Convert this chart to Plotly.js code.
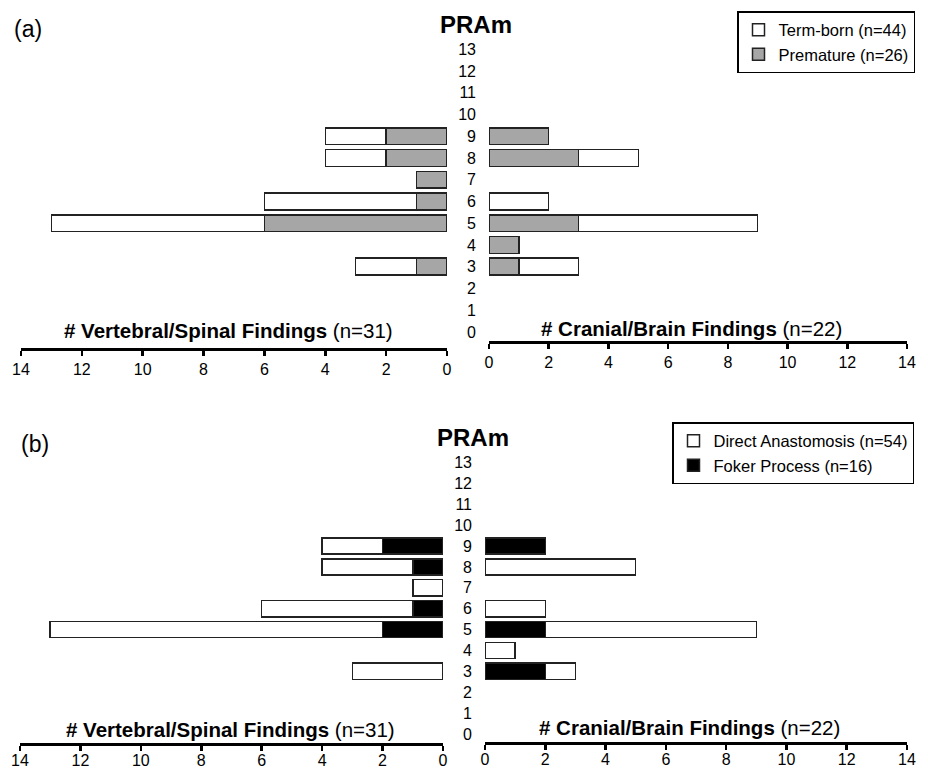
<!DOCTYPE html>
<html>
<head>
<meta charset="utf-8">
<script src="https://cdn.plot.ly/plotly-3.0.1.min.js"></script>
<style>html,body{margin:0;padding:0;background:#fff;}#chart{width:928px;height:771px;}</style>
</head>
<body>
<div id="chart"></div>
<script>
// Rows (category axis), 0..13
const rows = [0,1,2,3,4,5,6,7,8,9,10,11,12,13];
const rowLabels = rows.map(String);
const xTicks = [0,2,4,6,8,10,12,14];

// Panel (a): Term-born vs Premature
const vertPremA = [0,0,0,1,0,6,1,1,2,2,0,0,0,0];
const vertTermA = [0,0,0,2,0,7,5,0,2,2,0,0,0,0];
const cranPremA = [0,0,0,1,1,3,0,0,3,2,0,0,0,0];
const cranTermA = [0,0,0,2,0,6,2,0,2,0,0,0,0,0];

// Panel (b): Direct Anastomosis vs Foker Process
const vertFokerB  = [0,0,0,0,0,2,1,0,1,2,0,0,0,0];
const vertDirectB = [0,0,0,3,0,11,5,1,3,2,0,0,0,0];
const cranFokerB  = [0,0,0,2,0,2,0,0,0,2,0,0,0,0];
const cranDirectB = [0,0,0,1,1,7,2,0,5,0,0,0,0,0];

const FONT = '"Liberation Sans", Arial, sans-serif';
const nz = arr => arr.map(v => v === 0 ? null : v);
const line = {color: '#222', width: 1.5};

function bar(vals, name, fill, xa, ya, legend, show, rank) {
  return {
    type: 'bar', orientation: 'h', x: nz(vals), y: rows, name: name,
    xaxis: xa, yaxis: ya, legend: legend, showlegend: show, legendrank: rank,
    marker: {color: fill, line: line}, hoverinfo: 'skip'
  };
}

const GRAY = '#a6a6a6';
const traces = [
  bar(vertPremA, 'Premature (n=26)', GRAY, 'x', 'y', 'legend', false, 2),
  bar(vertTermA, 'Term-born (n=44)', '#ffffff', 'x', 'y', 'legend', false, 1),
  bar(cranPremA, 'Premature (n=26)', GRAY, 'x2', 'y', 'legend', true, 2),
  bar(cranTermA, 'Term-born (n=44)', '#ffffff', 'x2', 'y', 'legend', true, 1),
  bar(vertFokerB, 'Foker Process (n=16)', '#000000', 'x3', 'y2', 'legend2', false, 2),
  bar(vertDirectB, 'Direct Anastomosis (n=54)', '#ffffff', 'x3', 'y2', 'legend2', false, 1),
  bar(cranFokerB, 'Foker Process (n=16)', '#000000', 'x4', 'y2', 'legend2', true, 2),
  bar(cranDirectB, 'Direct Anastomosis (n=54)', '#ffffff', 'x4', 'y2', 'legend2', true, 1)
];

const W = 928, H = 771;
const px = v => v / W;
const py = v => (H - v) / H;

function xax(domain, range, pos, standoff) {
  return {
    domain: domain, range: range, anchor: 'free', position: pos,
    showgrid: false, zeroline: false, showline: true, linecolor: '#000', linewidth: 3,
    ticks: 'outside', ticklen: 5, tickwidth: 2.5, tickcolor: '#000',
    tickvals: xTicks, ticktext: xTicks.map(String), ticklabelstandoff: standoff,
    tickfont: {family: FONT, size: 16, color: '#000'}, fixedrange: true
  };
}
function yax(domain, range, pos) {
  return {
    domain: domain, range: range, anchor: 'free', position: pos,
    showgrid: false, zeroline: false, showline: false, ticks: '',
    tickvals: rows, ticktext: rowLabels, ticklabelstandoff: 13,
    tickfont: {family: FONT, size: 16, color: '#000'}, fixedrange: true
  };
}

const legendStyle = (x, y) => ({
  x: x, xanchor: 'right', y: y, yanchor: 'top',
  bordercolor: '#000', borderwidth: 1.5, bgcolor: '#fff',
  font: {family: FONT, size: 16.5, color: '#000'}, traceorder: 'normal',
  tracegroupgap: 0
});

const layout = {
  width: W, height: H, margin: {l: 0, r: 0, t: 0, b: 0},
  paper_bgcolor: '#fff', plot_bgcolor: 'rgba(0,0,0,0)',
  barmode: 'stack', bargap: 0.22,
  font: {family: FONT, color: '#000', size: 16},
  xaxis:  xax([px(21), px(447)], [14, 0], py(349), 0),
  xaxis2: xax([px(489), px(907)], [0, 14], py(342), 0),
  xaxis3: xax([px(20), px(443)], [14, 0], py(744), -4),
  xaxis4: xax([px(485), px(907)], [0, 14], py(743), -4),
  yaxis:  yax([py(345), py(38.4)], [-0.6, 13.5], px(489)),
  yaxis2: yax([py(744.5), py(452)], [-0.5, 13.5], px(485)),
  legend: legendStyle(px(915), py(11)),
  legend2: legendStyle(px(914), py(422)),
  annotations: [
    {text: '(a)', x: px(12), y: py(29), xref: 'paper', yref: 'paper', xanchor: 'left', yanchor: 'middle', showarrow: false, font: {family: FONT, size: 23}},
    {text: '(b)', x: px(19), y: py(444), xref: 'paper', yref: 'paper', xanchor: 'left', yanchor: 'middle', showarrow: false, font: {family: FONT, size: 23}},
    {text: '<b>PRAm</b>', x: px(476), y: py(24), xref: 'paper', yref: 'paper', xanchor: 'center', yanchor: 'middle', showarrow: false, font: {family: FONT, size: 24}},
    {text: '<b>PRAm</b>', x: px(473), y: py(437), xref: 'paper', yref: 'paper', xanchor: 'center', yanchor: 'middle', showarrow: false, font: {family: FONT, size: 24}},
    {text: '<b># Vertebral/Spinal Findings</b> (n=31)', x: px(228), y: py(330), xref: 'paper', yref: 'paper', xanchor: 'center', yanchor: 'middle', showarrow: false, font: {family: FONT, size: 20.5}},
    {text: '<b># Cranial/Brain Findings</b> (n=22)', x: px(691), y: py(328), xref: 'paper', yref: 'paper', xanchor: 'center', yanchor: 'middle', showarrow: false, font: {family: FONT, size: 20.5}},
    {text: '<b># Vertebral/Spinal Findings</b> (n=31)', x: px(230), y: py(729), xref: 'paper', yref: 'paper', xanchor: 'center', yanchor: 'middle', showarrow: false, font: {family: FONT, size: 20.5}},
    {text: '<b># Cranial/Brain Findings</b> (n=22)', x: px(689), y: py(727), xref: 'paper', yref: 'paper', xanchor: 'center', yanchor: 'middle', showarrow: false, font: {family: FONT, size: 20.5}}
  ]
};

Plotly.newPlot('chart', traces, layout, {staticPlot: true, displayModeBar: false});
</script>
</body>
</html>
